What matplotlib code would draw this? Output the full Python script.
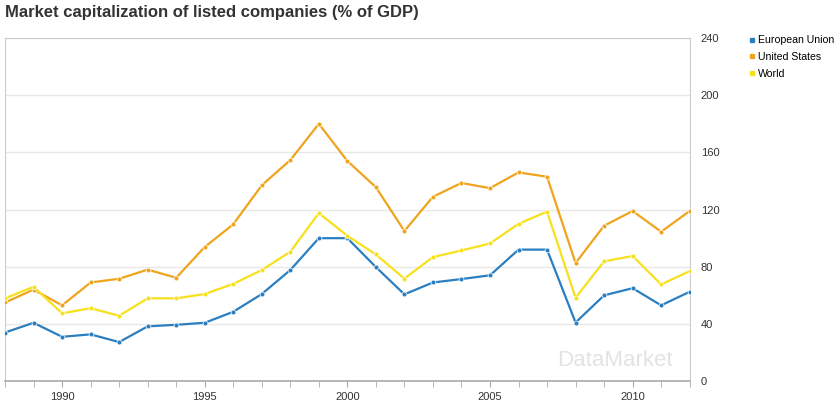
import numpy as np
import matplotlib.pyplot as plt
from matplotlib.ticker import MultipleLocator

plt.rcParams['font.family'] = ['Liberation Sans', 'DejaVu Sans']

years = list(range(1988, 2013))
eu = [34, 40.8, 31, 32.7, 27.3, 38.3, 39.4, 40.8, 48.5, 60.9, 77.7, 100, 100, 79.8,
      60.7, 69, 71.4, 74, 92, 92, 41, 60, 65, 53, 62.5]
us = [55, 64, 53, 69, 71.6, 78, 72.3, 93.8, 109.7, 137, 154.6, 180, 154, 135.7,
      105, 129, 138.6, 135, 146, 143, 82.6, 108.7, 119, 104.5, 119]
world = [57.9, 66, 47.4, 51, 45.7, 57.9, 57.9, 60.9, 68, 77.7, 90.5, 117.5, 101.7, 88.6,
         71.7, 86.8, 91.4, 96.3, 110, 118.6, 58.3, 83.8, 87.5, 67.6, 77]

series = ['European Union', 'United States', 'World']
colors = ['#2a7fc1', '#eea41d', '#f7e01c']

fig = plt.figure(figsize=(8.38, 4.05), dpi=100)
ax = fig.add_axes([0.006, 0.059, 0.817, 0.847])

for name, vals, c in zip(series, [eu, us, world], colors):
    ax.plot(years, vals, color=c, lw=1.6, marker='o', ms=3.5,
            mec='white', mew=0.5, label=name, zorder=3)

ax.set_xlim(1988, 2012)
ax.set_ylim(0, 240)
ax.xaxis.set_major_locator(MultipleLocator(5))
ax.xaxis.set_minor_locator(MultipleLocator(1))
ax.yaxis.set_major_locator(MultipleLocator(40))
ax.yaxis.tick_right()
ax.grid(axis='y', color='#e8e8e8', lw=1)
ax.set_axisbelow(True)
for s in ax.spines.values():
    s.set_color('#cccccc')
ax.spines['bottom'].set_color('#aaaaaa')
ax.spines['bottom'].set_linewidth(1.2)
ax.tick_params(axis='x', which='both', colors='#aaaaaa', labelcolor='#333333',
               labelsize=8, length=4, direction='out')
ax.tick_params(axis='y', length=0, labelsize=8, labelcolor='#333333', pad=8)

ax.text(0.975, 0.03, 'DataMarket', transform=ax.transAxes, ha='right', va='bottom',
        fontsize=16, color='#e3e3e3', zorder=1)

fig.text(0.006, 0.968, 'Market capitalization of listed companies (% of GDP)',
         fontsize=12, fontweight='bold', color='#333333', va='center')

handles = [plt.Line2D([], [], ls='', marker='s', ms=3.5, color=c) for c in colors]
fig.legend(handles, series, loc='upper left', bbox_to_anchor=(0.892, 0.913),
           frameon=False, fontsize=7.6, handletextpad=0.05, labelspacing=0.65,
           handlelength=0.9, borderpad=0, borderaxespad=0)

fig.savefig('out.png', dpi=100)
